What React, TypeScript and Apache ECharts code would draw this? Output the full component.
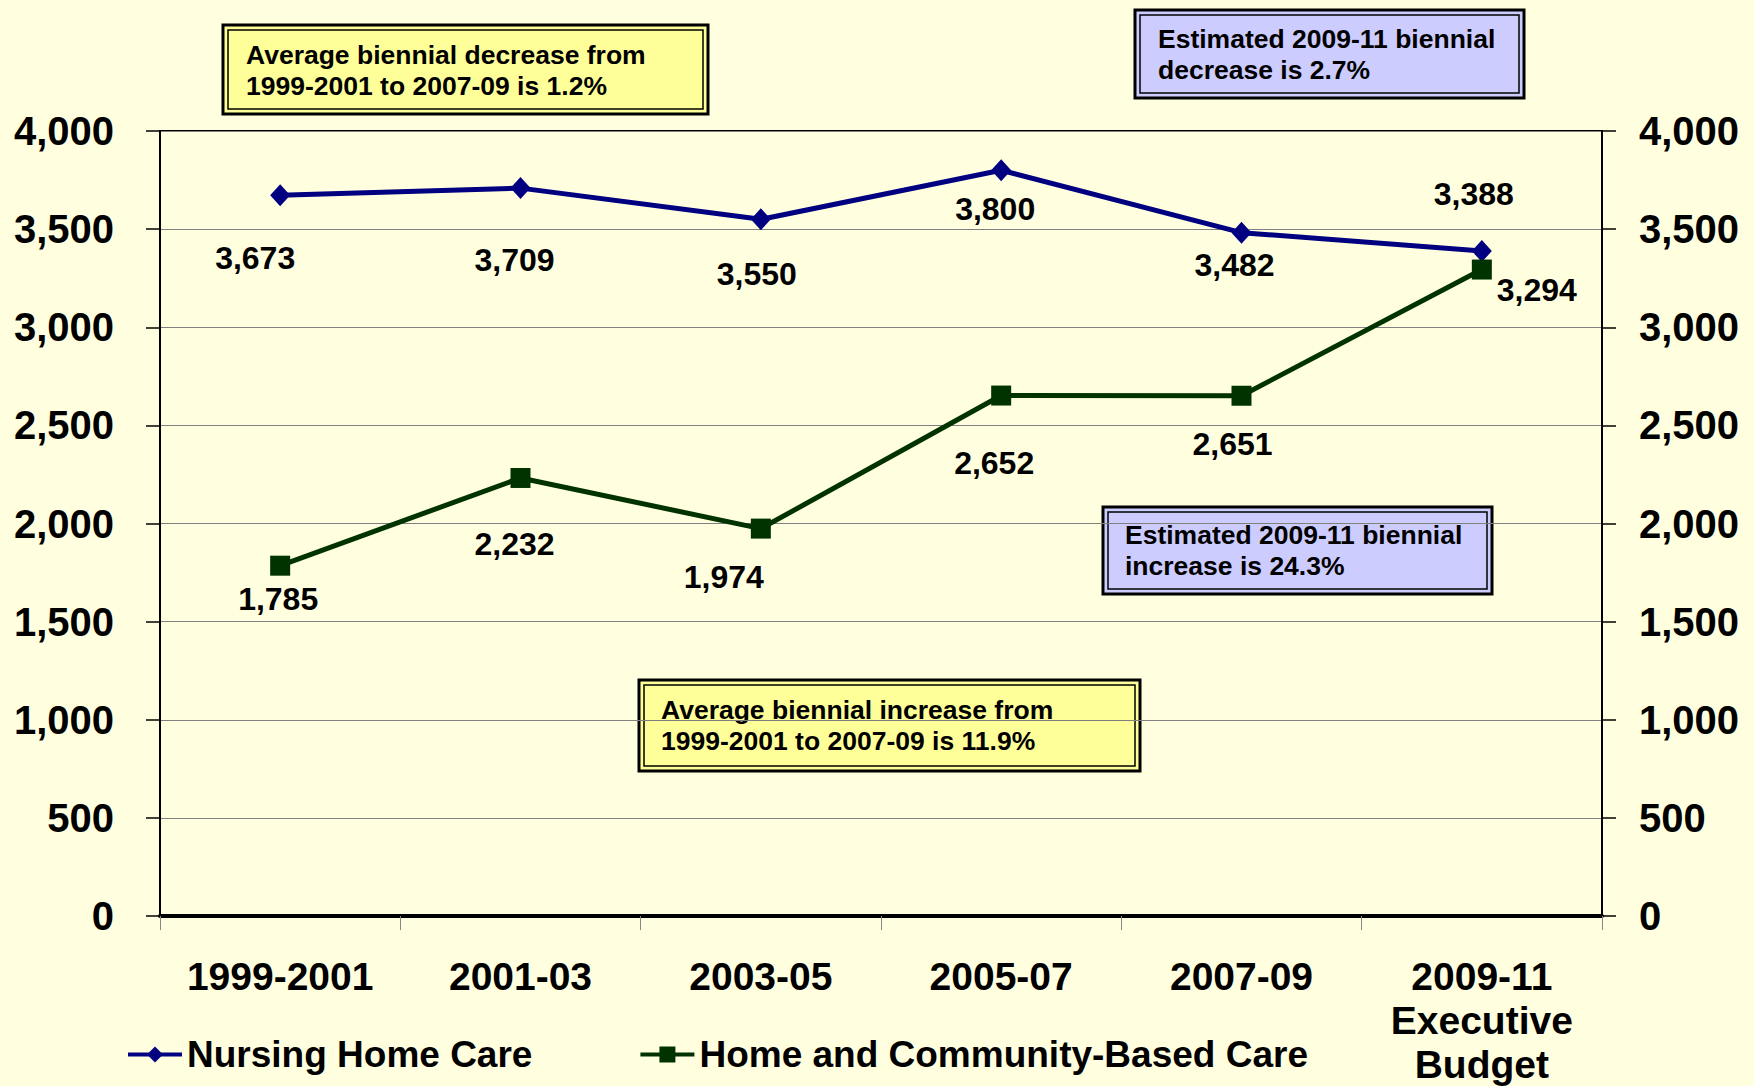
import React, { useEffect, useRef } from "react";
import * as echarts from "echarts";

const categories = ["1999-2001", "2001-03", "2003-05", "2005-07", "2007-09", "2009-11\nExecutive\nBudget"];
const nursingHomeCare = [3673, 3709, 3550, 3800, 3482, 3388];
const homeCommunityCare = [1785, 2232, 1974, 2652, 2651, 3294];
const yTicks = { min: 0, max: 4000, interval: 500 };

const nursingLabelOffsets = [[-25, 63], [-6, 72], [-4, 55], [-6, 39], [-7, 32], [-8, -57]];
const hcbLabelOffsets = [[-2, 33], [-6, 66], [-37, 48], [-7, 67], [-9, 48], [55, 20]];

const annotations = [
  { text: "Average biennial decrease from\n1999-2001 to 2007-09 is 1.2%", x: 223, y: 25, w: 485, h: 89, tx: 246, ty: 39, fill: "#FFFF99" },
  { text: "Estimated 2009-11 biennial\ndecrease is 2.7%", x: 1135, y: 10, w: 389, h: 88, tx: 1158, ty: 23, fill: "#CCCCFF" },
  { text: "Estimated 2009-11 biennial\nincrease is 24.3%", x: 1103, y: 507, w: 389, h: 87, tx: 1125, ty: 519, fill: "#CCCCFF" },
  { text: "Average biennial increase from\n1999-2001 to 2007-09 is 11.9%", x: 639, y: 680, w: 501, h: 91, tx: 661, ty: 694, fill: "#FFFF99" },
];

const FONT = "'Liberation Sans', Arial, sans-serif";

export default function App() {
  const ref = useRef<HTMLDivElement>(null);
  useEffect(() => {
    if (!ref.current) return;
    const chart = echarts.init(ref.current, null, { renderer: "svg" });
    const fmt = (v: number) => v.toLocaleString("en-US");
    const labelBase = {
      show: true,
      position: "inside",
      fontFamily: FONT,
      fontWeight: "bold",
      fontSize: 32,
      color: "#000",
      formatter: (p: any) => fmt(p.value),
    };
    const graphic: any[] = [];
    annotations.forEach((a) => {
      graphic.push({
        type: "group",
        children: [
          { type: "rect", shape: { x: a.x, y: a.y, width: a.w, height: a.h }, style: { fill: a.fill, stroke: "#000", lineWidth: 3 } },
          { type: "rect", shape: { x: a.x + 5, y: a.y + 5, width: a.w - 10, height: a.h - 10 }, style: { fill: "none", stroke: "#000", lineWidth: 1.5 } },
          {
            type: "text",
            x: a.tx,
            y: a.ty,
            style: { text: a.text, font: `bold 26.5px ${FONT}`, fill: "#000", lineHeight: 31, verticalAlign: "top" },
          },
        ],
      });
    });
    const yAxisBase = {
      type: "value",
      min: yTicks.min,
      max: yTicks.max,
      interval: yTicks.interval,
      axisLine: { show: true, lineStyle: { color: "#000", width: 2 } },
      axisTick: { show: true, length: 14, lineStyle: { color: "#000", width: 1.5 } },
      axisLabel: {
        fontFamily: FONT,
        fontWeight: "bold",
        fontSize: 40,
        color: "#000",
        formatter: (v: number) => fmt(v),
      },
    };
    chart.setOption({
      animation: false,
      backgroundColor: "#FFFFE0",
      grid: { left: 160, right: 152, top: 131, bottom: 166, show: true, borderColor: "#000", borderWidth: 2, backgroundColor: "transparent" },
      legend: {
        left: 121,
        top: 1031,
        itemWidth: 54,
        itemHeight: 20,
        itemGap: 106,
        lineStyle: { width: 4 },
        textStyle: { fontFamily: FONT, fontWeight: "bold", fontSize: 37, color: "#000" },
        data: ["Nursing Home Care", "Home and Community-Based Care"],
      },
      xAxis: {
        type: "category",
        data: categories,
        boundaryGap: true,
        axisLine: { show: true, lineStyle: { color: "#000", width: 4 } },
        axisTick: { show: true, interval: 0, length: 14, lineStyle: { color: "#888", width: 1 } },
        axisLabel: {
          interval: 0,
          margin: 38,
          fontFamily: FONT,
          fontWeight: "bold",
          fontSize: 39,
          lineHeight: 44,
          color: "#000",
        },
        splitLine: { show: false },
      },
      yAxis: [
        {
          ...yAxisBase,
          position: "left",
          axisLabel: { ...yAxisBase.axisLabel, margin: 46 },
          splitLine: { show: true, lineStyle: { color: "#808080", width: 1 } },
        },
        {
          ...yAxisBase,
          position: "right",
          axisLabel: { ...yAxisBase.axisLabel, margin: 37 },
          splitLine: { show: false },
        },
      ],
      series: [
        {
          name: "Nursing Home Care",
          type: "line",
          yAxisIndex: 0,
          data: nursingHomeCare.map((v, i) => ({ value: v, label: { offset: nursingLabelOffsets[i] } })),
          symbol: "diamond",
          symbolSize: [20, 22],
          lineStyle: { color: "#000080", width: 5 },
          itemStyle: { color: "#000080" },
          label: labelBase,
          z: 3,
        },
        {
          name: "Home and Community-Based Care",
          type: "line",
          yAxisIndex: 0,
          data: homeCommunityCare.map((v, i) => ({ value: v, label: { offset: hcbLabelOffsets[i] } })),
          symbol: "rect",
          symbolSize: 20,
          lineStyle: { color: "#003300", width: 5 },
          itemStyle: { color: "#003300" },
          label: labelBase,
          z: 3,
        },
      ],
      graphic,
    });
    return () => chart.dispose();
  }, []);
  return <div ref={ref} style={{ position: "fixed", left: 0, top: 0, width: 1754, height: 1086 }} />;
}
